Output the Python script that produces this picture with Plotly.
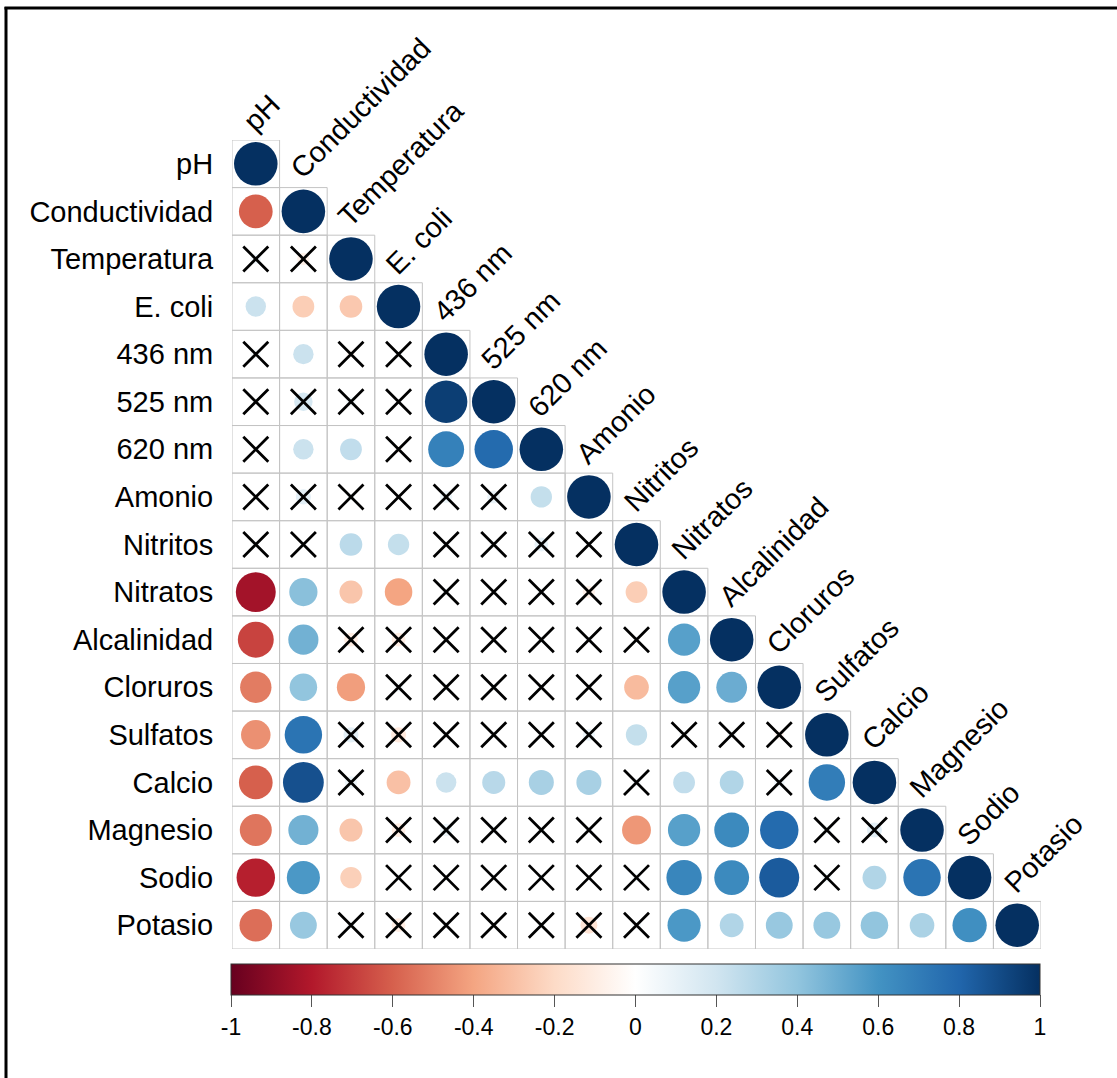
import plotly.graph_objects as go

# Variables of the water-quality correlation matrix (row/column order)
variables = ["pH", "Conductividad", "Temperatura", "E. coli", "436 nm", "525 nm",
             "620 nm", "Amonio", "Nitritos", "Nitratos", "Alcalinidad", "Cloruros",
             "Sulfatos", "Calcio", "Magnesio", "Sodio", "Potasio"]

# Lower triangle of the Pearson correlation matrix, one list per row
corr_rows = [
    [1.00],
    [-0.60, 1.00],
    [0.06, -0.08, 1.00],
    [0.22, -0.25, -0.27, 1.00],
    [0.05, 0.22, -0.04, 0.03, 1.00],
    [0.03, 0.18, 0.05, 0.02, 0.95, 1.00],
    [0.02, 0.22, 0.25, -0.03, 0.68, 0.78, 1.00],
    [0.02, 0.12, 0.03, 0.02, 0.08, 0.09, 0.24, 1.00],
    [0.03, 0.02, 0.27, 0.24, 0.03, 0.04, 0.10, 0.02, 1.00],
    [-0.84, 0.42, -0.28, -0.40, 0.03, 0.02, 0.03, -0.08, -0.25, 1.00],
    [-0.68, 0.48, -0.10, -0.10, 0.02, 0.02, 0.03, 0.03, 0.02, 0.55, 1.00],
    [-0.52, 0.40, -0.42, 0.05, 0.03, 0.02, 0.03, 0.02, -0.32, 0.55, 0.50, 1.00],
    [-0.46, 0.74, 0.12, -0.12, 0.02, 0.03, 0.03, 0.08, 0.24, 0.05, 0.05, -0.05, 1.00],
    [-0.60, 0.88, 0.08, -0.30, 0.22, 0.28, 0.33, 0.33, 0.04, 0.25, 0.30, 0.06, 0.70, 1.00],
    [-0.54, 0.48, -0.28, -0.10, 0.08, 0.04, 0.03, 0.03, -0.44, 0.55, 0.64, 0.78, 0.05, 0.12, 1.00],
    [-0.78, 0.58, -0.24, 0.03, 0.02, 0.02, 0.03, 0.02, 0.04, 0.66, 0.64, 0.84, 0.05, 0.30, 0.74, 1.00],
    [-0.56, 0.38, 0.04, -0.10, 0.03, 0.02, 0.03, -0.15, 0.05, 0.58, 0.30, 0.38, 0.38, 0.40, 0.32, 0.62, 1.00],
]

# 1 = correlation not significant (crossed out), same shape as corr_rows
nonsig_rows = [
    [0],
    [0, 0],
    [1, 1, 0],
    [0, 0, 0, 0],
    [1, 0, 1, 1, 0],
    [1, 1, 1, 1, 0, 0],
    [1, 0, 0, 1, 0, 0, 0],
    [1, 1, 1, 1, 1, 1, 0, 0],
    [1, 1, 0, 0, 1, 1, 1, 1, 0],
    [0, 0, 0, 0, 1, 1, 1, 1, 0, 0],
    [0, 0, 1, 1, 1, 1, 1, 1, 1, 0, 0],
    [0, 0, 0, 1, 1, 1, 1, 1, 0, 0, 0, 0],
    [0, 0, 1, 1, 1, 1, 1, 1, 0, 1, 1, 1, 0],
    [0, 0, 1, 0, 0, 0, 0, 0, 1, 0, 0, 1, 0, 0],
    [0, 0, 0, 1, 1, 1, 1, 1, 0, 0, 0, 0, 1, 1, 0],
    [0, 0, 0, 1, 1, 1, 1, 1, 1, 0, 0, 0, 1, 0, 0, 0],
    [0, 0, 1, 1, 1, 1, 1, 1, 1, 0, 0, 0, 0, 0, 0, 0, 0],
]

colorbar_ticks = [-1, -0.8, -0.6, -0.4, -0.2, 0, 0.2, 0.4, 0.6, 0.8, 1]
colorbar_ticktext = ["-1", "-0.8", "-0.6", "-0.4", "-0.2", "0", "0.2", "0.4", "0.6", "0.8", "1"]

# RdBu diverging palette used by corrplot
rdbu = ["#67001F", "#B2182B", "#D6604D", "#F4A582", "#FDDBC7", "#FFFFFF",
        "#D1E5F0", "#92C5DE", "#4393C3", "#2166AC", "#053061"]
colorscale = [[i / (len(rdbu) - 1), c] for i, c in enumerate(rdbu)]

W, H = 1117, 1078
FONT = "Liberation Sans, Arial, sans-serif"
n = len(variables)

# plot area in pixels
left_px, right_px = 232, 1041
top_px, bottom_px = 140, 949
cell_px = (right_px - left_px) / n
max_diam = cell_px * 0.915

xs, ys, vals, sizes = [], [], [], []
xx, xy = [], []
for i, row in enumerate(corr_rows):
    for j, r in enumerate(row):
        xs.append(j + 1)
        ys.append(i + 1)
        vals.append(r)
        # circle area proportional to |r|
        sizes.append(max_diam * abs(r) ** 0.5)
        if nonsig_rows[i][j]:
            xx.append(j + 1)
            xy.append(i + 1)

fig = go.Figure()

fig.add_trace(go.Scatter(
    x=xs, y=ys, mode="markers", hoverinfo="skip",
    marker=dict(
        size=sizes, color=vals, colorscale=colorscale, cmin=-1, cmax=1,
        opacity=1, line=dict(width=0), symbol="circle",
        showscale=True,
        colorbar=dict(
            orientation="h",
            x=(231 + 1040) / 2 / W, xanchor="center",
            y=1 - 964 / H, yanchor="top",
            len=809, lenmode="pixels",
            thickness=31, thicknessmode="pixels",
            xpad=0, ypad=0,
            outlinewidth=1, outlinecolor="#333333",
            tickmode="array", tickvals=colorbar_ticks, ticktext=colorbar_ticktext,
            ticks="outside", ticklen=12, tickwidth=1, tickcolor="#555555",
            tickfont=dict(family=FONT, size=23, color="black"),
        ),
    ),
))

fig.add_trace(go.Scatter(
    x=xx, y=xy, mode="markers", hoverinfo="skip",
    marker=dict(symbol="x-thin", size=25, color="black", opacity=1,
                line=dict(width=2.8, color="black")),
))

# cell borders of the lower triangle
shapes = []
for i in range(n):
    for j in range(i + 1):
        shapes.append(dict(type="rect", xref="x", yref="y",
                           x0=j + 0.5, x1=j + 1.5, y0=i + 0.5, y1=i + 1.5,
                           line=dict(color="#C4C4C4", width=1), layer="below"))

# outer frame (left and top edges)
shapes.append(dict(type="line", xref="paper", yref="paper",
                   x0=6 / W, x1=6 / W, y0=1 - 7 / H, y1=-0.05,
                   line=dict(color="black", width=3)))
shapes.append(dict(type="line", xref="paper", yref="paper",
                   x0=4.5 / W, x1=1.05, y0=1 - 8 / H, y1=1 - 8 / H,
                   line=dict(color="black", width=3)))

# rotated column labels above each diagonal cell
annotations = []
for k, name in enumerate(variables):
    annotations.append(dict(
        x=k + 0.5, y=k + 0.5, xref="x", yref="y",
        text=name, showarrow=False, textangle=-45,
        xanchor="left", yanchor="bottom", xshift=2,
        font=dict(family=FONT, size=29, color="black"),
    ))

fig.update_layout(
    width=W, height=H,
    margin=dict(l=0, r=0, t=0, b=0, pad=0),
    paper_bgcolor="white", plot_bgcolor="white",
    showlegend=False,
    shapes=shapes, annotations=annotations,
    xaxis=dict(domain=[left_px / W, right_px / W], range=[0.5, n + 0.5],
               showticklabels=False, showgrid=False, zeroline=False,
               ticks="", showline=False, automargin=False),
    yaxis=dict(domain=[1 - bottom_px / H, 1 - top_px / H], range=[n + 0.5, 0.5],
               tickmode="array", tickvals=list(range(1, n + 1)), ticktext=variables,
               ticks="outside", ticklen=12, tickcolor="rgba(0,0,0,0)",
               tickfont=dict(family=FONT, size=29, color="black"),
               showgrid=False, zeroline=False, showline=False, automargin=False),
)

fig.write_html("out.html")
